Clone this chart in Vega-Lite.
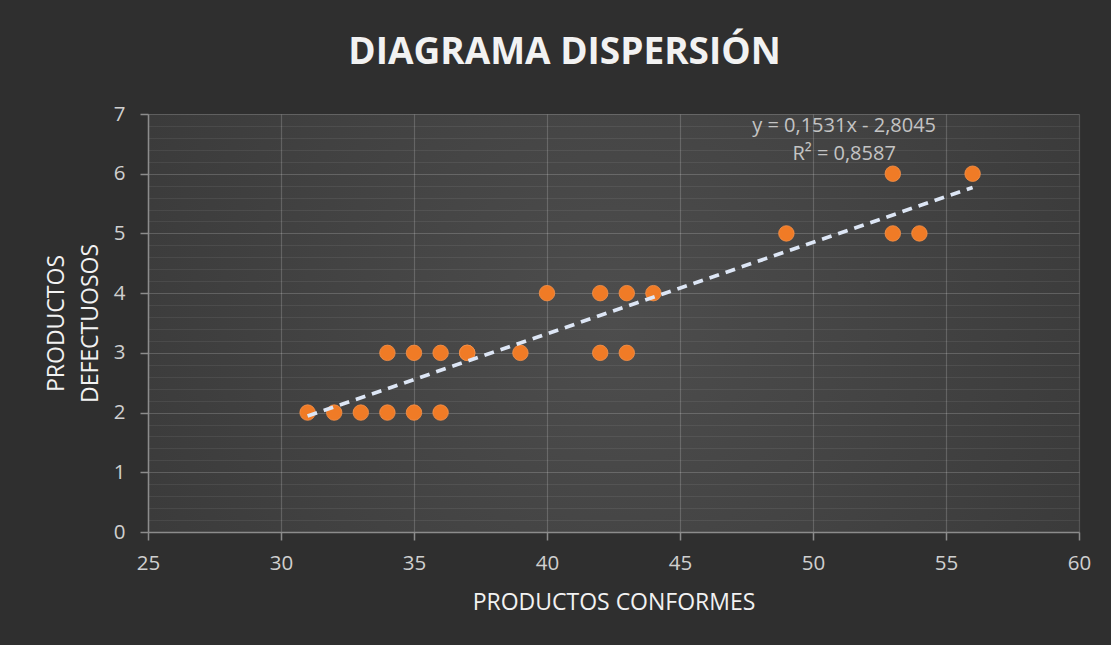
{
  "$schema": "https://vega.github.io/schema/vega-lite/v6.json",
  "width": 931,
  "height": 418,
  "autosize": {"type": "none"},
  "padding": {"left": 148, "top": 114, "right": 32, "bottom": 113},
  "background": "#2f2f2f",
  "view": {
    "stroke": null,
    "fill": {
      "gradient": "radial",
      "x1": 0.5, "y1": 0.5, "r1": 0,
      "x2": 0.5, "y2": 0.5, "r2": 0.75,
      "stops": [
        {"offset": 0, "color": "#4d4d4d"},
        {"offset": 1, "color": "#343434"}
      ]
    }
  },
  "title": {
    "text": "DIAGRAMA DISPERSIÓN",
    "font": "Open Sans",
    "fontSize": 37,
    "fontWeight": "bold",
    "color": "#f2f2f2",
    "anchor": "middle",
    "frame": "group",
    "dx": -49,
    "baseline": "alphabetic",
    "offset": 3
  },
  "datasets": {
    "points": [
      {"conformes": 31, "defectuosos": 2},
      {"conformes": 32, "defectuosos": 2},
      {"conformes": 33, "defectuosos": 2},
      {"conformes": 34, "defectuosos": 2},
      {"conformes": 35, "defectuosos": 2},
      {"conformes": 36, "defectuosos": 2},
      {"conformes": 34, "defectuosos": 3},
      {"conformes": 35, "defectuosos": 3},
      {"conformes": 36, "defectuosos": 3},
      {"conformes": 37, "defectuosos": 3},
      {"conformes": 37, "defectuosos": 3},
      {"conformes": 39, "defectuosos": 3},
      {"conformes": 42, "defectuosos": 3},
      {"conformes": 43, "defectuosos": 3},
      {"conformes": 40, "defectuosos": 4},
      {"conformes": 42, "defectuosos": 4},
      {"conformes": 43, "defectuosos": 4},
      {"conformes": 44, "defectuosos": 4},
      {"conformes": 49, "defectuosos": 5},
      {"conformes": 53, "defectuosos": 5},
      {"conformes": 54, "defectuosos": 5},
      {"conformes": 53, "defectuosos": 6},
      {"conformes": 56, "defectuosos": 6}
    ],
    "trend": [
      {"conformes": 31, "defectuosos": 1.9416},
      {"conformes": 56, "defectuosos": 5.7691}
    ],
    "equation": [
      {"conformes": 51.17, "defectuosos": 6.7, "label": ["y = 0,1531x - 2,8045", "R² = 0,8587"]}
    ]
  },
  "encoding": {
    "x": {
      "field": "conformes",
      "type": "quantitative",
      "scale": {"domain": [25, 60], "nice": false, "zero": false},
      "axis": {
        "title": "PRODUCTOS CONFORMES",
        "values": [25, 30, 35, 40, 45, 50, 55, 60],
        "format": "d",
        "labelFlush": false,
        "domainColor": "#8c8c8c",
        "domainWidth": 1.5,
        "tickColor": "#8c8c8c",
        "tickWidth": 1.5,
        "tickSize": 8,
        "grid": true,
        "gridColor": "#ffffff",
        "gridOpacity": 0.18,
        "gridWidth": 1.2,
        "labelFont": "Open Sans",
        "labelFontSize": 20.5,
        "labelColor": "#d0d0d0",
        "labelPadding": 13,
        "titleFont": "Open Sans",
        "titleFontSize": 23,
        "titleFontWeight": "normal",
        "titleColor": "#f2f2f2",
        "titlePadding": 18
      }
    },
    "y": {
      "field": "defectuosos",
      "type": "quantitative",
      "scale": {"domain": [0, 7], "nice": false},
      "axis": {
        "title": ["PRODUCTOS", "DEFECTUOSOS"],
        "values": [0, 0.2, 0.4, 0.6, 0.8, 1, 1.2, 1.4, 1.6, 1.8, 2, 2.2, 2.4, 2.6, 2.8, 3, 3.2, 3.4, 3.6, 3.8, 4, 4.2, 4.4, 4.6, 4.8, 5, 5.2, 5.4, 5.6, 5.8, 6, 6.2, 6.4, 6.6, 6.8, 7],
        "labelExpr": "datum.value % 1 === 0 ? format(datum.value, 'd') : ''",
        "labelFlush": false,
        "domainColor": "#8c8c8c",
        "domainWidth": 1.5,
        "tickColor": "#8c8c8c",
        "tickWidth": 1.5,
        "tickSize": 8,
        "tickOpacity": {"condition": {"test": "datum.value % 1 === 0", "value": 1}, "value": 0},
        "grid": true,
        "gridColor": "#ffffff",
        "gridOpacity": {"condition": {"test": "datum.value % 1 === 0", "value": 0.18}, "value": 0.07},
        "gridWidth": 1.2,
        "labelFont": "Open Sans",
        "labelFontSize": 20.5,
        "labelColor": "#d0d0d0",
        "labelPadding": 15,
        "labelOverlap": false,
        "titleFont": "Open Sans",
        "titleFontSize": 23,
        "titleFontWeight": "normal",
        "titleColor": "#f2f2f2",
        "titleLineHeight": 34,
        "titlePadding": 11
      }
    }
  },
  "layer": [
    {
      "data": {"name": "points"},
      "mark": {"type": "point", "filled": true, "size": 240, "color": "#f07b26", "opacity": 1, "stroke": "#f5924a", "strokeWidth": 0.8}
    },
    {
      "data": {"name": "trend"},
      "mark": {"type": "line", "color": "#dde6f5", "strokeWidth": 3.7, "strokeDash": [10, 7], "strokeCap": "butt"}
    },
    {
      "data": {"name": "equation"},
      "mark": {"type": "text", "font": "Open Sans", "fontSize": 20, "color": "#c4c4c4", "align": "center", "baseline": "alphabetic", "lineHeight": 28},
      "encoding": {"text": {"field": "label"}}
    }
  ]
}
